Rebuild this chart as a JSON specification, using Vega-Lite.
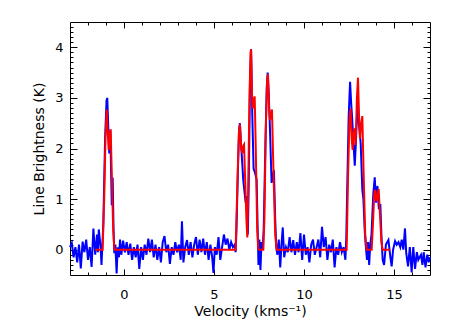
{
  "$schema": "https://vega.github.io/schema/vega-lite/v6.json",
  "width": 360,
  "height": 253,
  "autosize": {"type": "none"},
  "padding": {"left": 70, "top": 22, "right": 20, "bottom": 46},
  "background": "white",
  "config": {
    "view": {"stroke": "black", "strokeWidth": 1},
    "axis": {
      "grid": false,
      "domain": false,
      "labelFont": "DejaVu Sans",
      "titleFont": "DejaVu Sans",
      "labelColor": "black",
      "titleColor": "black",
      "tickColor": "black",
      "labelFontSize": 13,
      "titleFontSize": 14,
      "titleFontWeight": "normal",
      "tickWidth": 1
    }
  },
  "datasets": {
    "blue": [
      {"v": -3.0, "k": 0.05}, {"v": -2.9, "k": 0.13}, {"v": -2.8, "k": -0.15}, {"v": -2.7, "k": 0.05},
      {"v": -2.6, "k": -0.25}, {"v": -2.5, "k": 0.1}, {"v": -2.4, "k": -0.37}, {"v": -2.3, "k": 0.16},
      {"v": -2.2, "k": -0.05}, {"v": -2.1, "k": 0.2}, {"v": -2.0, "k": -0.2}, {"v": -1.9, "k": 0.05},
      {"v": -1.8, "k": -0.34}, {"v": -1.7, "k": 0.42}, {"v": -1.6, "k": -0.1}, {"v": -1.5, "k": 0.3},
      {"v": -1.45, "k": -0.05}, {"v": -1.4, "k": 0.4}, {"v": -1.3, "k": 0.05}, {"v": -1.25, "k": -0.3},
      {"v": -1.2, "k": 0.1}, {"v": -1.15, "k": 0.5}, {"v": -1.05, "k": 2.2}, {"v": -0.97, "k": 2.95},
      {"v": -0.93, "k": 3.0}, {"v": -0.88, "k": 2.5}, {"v": -0.82, "k": 1.9}, {"v": -0.76, "k": 2.35},
      {"v": -0.72, "k": 1.6}, {"v": -0.68, "k": 0.88}, {"v": -0.63, "k": 1.42}, {"v": -0.58, "k": 0.4},
      {"v": -0.54, "k": -0.07}, {"v": -0.48, "k": 0.1}, {"v": -0.41, "k": -0.47}, {"v": -0.35, "k": 0.05},
      {"v": -0.28, "k": -0.15}, {"v": -0.22, "k": 0.2}, {"v": -0.15, "k": -0.1}, {"v": -0.05, "k": 0.18},
      {"v": 0.05, "k": -0.05}, {"v": 0.15, "k": 0.15}, {"v": 0.25, "k": -0.1}, {"v": 0.35, "k": 0.12},
      {"v": 0.45, "k": -0.2}, {"v": 0.55, "k": 0.05}, {"v": 0.65, "k": -0.15}, {"v": 0.75, "k": 0.1},
      {"v": 0.85, "k": -0.38}, {"v": 0.95, "k": 0.05}, {"v": 1.05, "k": -0.2}, {"v": 1.15, "k": 0.1},
      {"v": 1.25, "k": -0.1}, {"v": 1.35, "k": 0.22}, {"v": 1.45, "k": -0.05}, {"v": 1.55, "k": 0.2},
      {"v": 1.65, "k": -0.15}, {"v": 1.75, "k": 0.1}, {"v": 1.85, "k": -0.2}, {"v": 1.95, "k": 0.05},
      {"v": 2.05, "k": -0.25}, {"v": 2.15, "k": 0.15}, {"v": 2.25, "k": 0.27}, {"v": 2.35, "k": -0.05},
      {"v": 2.45, "k": 0.1}, {"v": 2.55, "k": -0.28}, {"v": 2.65, "k": 0.05}, {"v": 2.75, "k": -0.1},
      {"v": 2.85, "k": 0.15}, {"v": 2.95, "k": -0.05}, {"v": 3.05, "k": 0.1}, {"v": 3.15, "k": -0.2},
      {"v": 3.22, "k": 0.56}, {"v": 3.3, "k": -0.25}, {"v": 3.4, "k": 0.05}, {"v": 3.5, "k": 0.19},
      {"v": 3.6, "k": -0.1}, {"v": 3.7, "k": 0.15}, {"v": 3.8, "k": -0.15}, {"v": 3.9, "k": 0.1},
      {"v": 4.0, "k": 0.25}, {"v": 4.1, "k": -0.1}, {"v": 4.2, "k": 0.2}, {"v": 4.3, "k": -0.05},
      {"v": 4.4, "k": 0.22}, {"v": 4.5, "k": -0.1}, {"v": 4.6, "k": 0.15}, {"v": 4.7, "k": -0.2},
      {"v": 4.8, "k": 0.1}, {"v": 4.9, "k": -0.15}, {"v": 4.97, "k": -0.46}, {"v": 5.05, "k": 0.05},
      {"v": 5.15, "k": -0.1}, {"v": 5.25, "k": 0.25}, {"v": 5.35, "k": -0.2}, {"v": 5.45, "k": 0.05},
      {"v": 5.55, "k": 0.3}, {"v": 5.65, "k": 0.1}, {"v": 5.75, "k": 0.22}, {"v": 5.85, "k": 0.0},
      {"v": 5.95, "k": 0.15}, {"v": 6.05, "k": 0.05}, {"v": 6.15, "k": 0.1}, {"v": 6.2, "k": -0.05},
      {"v": 6.25, "k": 0.4}, {"v": 6.33, "k": 1.6}, {"v": 6.4, "k": 2.4}, {"v": 6.44, "k": 2.5},
      {"v": 6.5, "k": 2.1}, {"v": 6.57, "k": 1.71}, {"v": 6.62, "k": 1.4}, {"v": 6.68, "k": 1.19},
      {"v": 6.76, "k": 0.93}, {"v": 6.83, "k": 1.06}, {"v": 6.88, "k": 0.3}, {"v": 6.93, "k": 1.3},
      {"v": 7.0, "k": 3.3}, {"v": 7.06, "k": 3.96}, {"v": 7.13, "k": 2.63}, {"v": 7.2, "k": 1.6},
      {"v": 7.28, "k": 1.52}, {"v": 7.37, "k": 1.38}, {"v": 7.42, "k": 0.5}, {"v": 7.47, "k": -0.3},
      {"v": 7.52, "k": 0.2}, {"v": 7.58, "k": -0.4}, {"v": 7.64, "k": 0.15}, {"v": 7.7, "k": 0.0},
      {"v": 7.76, "k": 0.4}, {"v": 7.85, "k": 2.0}, {"v": 7.93, "k": 3.2}, {"v": 7.98, "k": 3.5},
      {"v": 8.04, "k": 3.1}, {"v": 8.11, "k": 2.37}, {"v": 8.2, "k": 1.32}, {"v": 8.26, "k": 1.45},
      {"v": 8.33, "k": 1.57}, {"v": 8.4, "k": 0.6}, {"v": 8.46, "k": 0.05}, {"v": 8.52, "k": -0.1},
      {"v": 8.6, "k": 0.2}, {"v": 8.68, "k": -0.35}, {"v": 8.75, "k": 0.1}, {"v": 8.82, "k": 0.44},
      {"v": 8.9, "k": -0.15}, {"v": 9.0, "k": 0.05}, {"v": 9.1, "k": -0.05}, {"v": 9.2, "k": 0.25},
      {"v": 9.3, "k": -0.05}, {"v": 9.4, "k": 0.19}, {"v": 9.5, "k": -0.1}, {"v": 9.6, "k": 0.15},
      {"v": 9.7, "k": -0.05}, {"v": 9.8, "k": 0.33}, {"v": 9.9, "k": -0.2}, {"v": 10.0, "k": 0.3},
      {"v": 10.1, "k": -0.1}, {"v": 10.2, "k": 0.05}, {"v": 10.3, "k": -0.25}, {"v": 10.4, "k": 0.1},
      {"v": 10.5, "k": 0.2}, {"v": 10.6, "k": -0.1}, {"v": 10.7, "k": 0.05}, {"v": 10.8, "k": 0.2},
      {"v": 10.9, "k": -0.15}, {"v": 11.0, "k": 0.45}, {"v": 11.1, "k": 0.05}, {"v": 11.2, "k": 0.25},
      {"v": 11.3, "k": -0.2}, {"v": 11.4, "k": 0.1}, {"v": 11.5, "k": -0.05}, {"v": 11.6, "k": 0.2},
      {"v": 11.7, "k": -0.35}, {"v": 11.8, "k": 0.05}, {"v": 11.9, "k": -0.1}, {"v": 12.0, "k": 0.15},
      {"v": 12.1, "k": -0.05}, {"v": 12.2, "k": 0.05}, {"v": 12.3, "k": -0.2}, {"v": 12.35, "k": 0.25},
      {"v": 12.4, "k": 1.2}, {"v": 12.48, "k": 2.6}, {"v": 12.56, "k": 3.32}, {"v": 12.62, "k": 2.9},
      {"v": 12.67, "k": 2.63}, {"v": 12.74, "k": 2.17}, {"v": 12.82, "k": 1.66}, {"v": 12.88, "k": 2.1},
      {"v": 12.95, "k": 2.7}, {"v": 13.0, "k": 2.86}, {"v": 13.05, "k": 2.5}, {"v": 13.1, "k": 2.3},
      {"v": 13.15, "k": 2.1}, {"v": 13.24, "k": 1.19}, {"v": 13.3, "k": 1.0}, {"v": 13.37, "k": 0.4},
      {"v": 13.43, "k": 0.08}, {"v": 13.5, "k": -0.2}, {"v": 13.56, "k": 0.15}, {"v": 13.62, "k": -0.3},
      {"v": 13.68, "k": 0.1}, {"v": 13.75, "k": 0.3}, {"v": 13.85, "k": 1.1}, {"v": 13.93, "k": 1.43},
      {"v": 14.0, "k": 0.93}, {"v": 14.08, "k": 1.26}, {"v": 14.16, "k": 0.8}, {"v": 14.24, "k": 0.9},
      {"v": 14.3, "k": 0.3}, {"v": 14.37, "k": -0.2}, {"v": 14.45, "k": -0.3}, {"v": 14.55, "k": 0.1},
      {"v": 14.69, "k": 0.19}, {"v": 14.8, "k": -0.15}, {"v": 14.87, "k": -0.33}, {"v": 14.95, "k": 0.0},
      {"v": 15.06, "k": 0.17}, {"v": 15.15, "k": 0.1}, {"v": 15.25, "k": 0.15}, {"v": 15.35, "k": 0.05},
      {"v": 15.43, "k": 0.2}, {"v": 15.52, "k": 0.0}, {"v": 15.61, "k": 0.42}, {"v": 15.68, "k": -0.07},
      {"v": 15.78, "k": -0.33}, {"v": 15.88, "k": 0.05}, {"v": 15.98, "k": -0.45}, {"v": 16.07, "k": 0.05},
      {"v": 16.17, "k": -0.38}, {"v": 16.27, "k": -0.05}, {"v": 16.35, "k": -0.2}, {"v": 16.42, "k": -0.15},
      {"v": 16.5, "k": -0.1}, {"v": 16.58, "k": -0.3}, {"v": 16.65, "k": -0.05}, {"v": 16.75, "k": -0.35},
      {"v": 16.85, "k": -0.1}, {"v": 16.93, "k": -0.25}, {"v": 17.0, "k": -0.15}
    ],
    "red": [
      {"v": -1.6, "k": 0}, {"v": -1.19, "k": 0}, {"v": -1.1, "k": 1.0}, {"v": -1.03, "k": 2.2},
      {"v": -0.96, "k": 2.77}, {"v": -0.9, "k": 2.3}, {"v": -0.85, "k": 1.97}, {"v": -0.79, "k": 2.3},
      {"v": -0.74, "k": 2.38}, {"v": -0.68, "k": 1.5}, {"v": -0.6, "k": 0.4}, {"v": -0.54, "k": 0.02},
      {"v": -0.5, "k": 0}, {"v": 6.2, "k": 0}, {"v": 6.3, "k": 1.3}, {"v": 6.38, "k": 2.3},
      {"v": 6.44, "k": 2.48}, {"v": 6.51, "k": 2.0}, {"v": 6.57, "k": 1.91}, {"v": 6.62, "k": 2.05},
      {"v": 6.67, "k": 2.08}, {"v": 6.72, "k": 1.5}, {"v": 6.8, "k": 0.6}, {"v": 6.85, "k": 0.24},
      {"v": 6.9, "k": 1.2}, {"v": 6.97, "k": 3.0}, {"v": 7.03, "k": 3.9}, {"v": 7.06, "k": 3.96},
      {"v": 7.11, "k": 3.1}, {"v": 7.15, "k": 2.79}, {"v": 7.21, "k": 2.95}, {"v": 7.26, "k": 3.03},
      {"v": 7.32, "k": 2.0}, {"v": 7.4, "k": 0.4}, {"v": 7.46, "k": 0.02}, {"v": 7.5, "k": 0},
      {"v": 7.74, "k": 0}, {"v": 7.8, "k": 0.6}, {"v": 7.88, "k": 2.4}, {"v": 7.95, "k": 3.35},
      {"v": 8.0, "k": 3.47}, {"v": 8.06, "k": 2.8}, {"v": 8.11, "k": 2.56}, {"v": 8.17, "k": 2.7},
      {"v": 8.22, "k": 2.77}, {"v": 8.3, "k": 1.6}, {"v": 8.4, "k": 0.3}, {"v": 8.48, "k": 0},
      {"v": 12.37, "k": 0}, {"v": 12.45, "k": 1.5}, {"v": 12.53, "k": 2.6}, {"v": 12.59, "k": 2.79},
      {"v": 12.65, "k": 2.2}, {"v": 12.7, "k": 1.97}, {"v": 12.75, "k": 2.3}, {"v": 12.8, "k": 2.4},
      {"v": 12.87, "k": 2.07}, {"v": 12.94, "k": 3.0}, {"v": 13.0, "k": 3.4}, {"v": 13.06, "k": 2.6},
      {"v": 13.11, "k": 2.2}, {"v": 13.18, "k": 2.5}, {"v": 13.24, "k": 2.64}, {"v": 13.32, "k": 1.4},
      {"v": 13.4, "k": 0.3}, {"v": 13.48, "k": 0}, {"v": 13.76, "k": 0}, {"v": 13.83, "k": 0.5},
      {"v": 13.9, "k": 1.1}, {"v": 13.94, "k": 1.18}, {"v": 14.0, "k": 1.0}, {"v": 14.04, "k": 0.96},
      {"v": 14.1, "k": 1.15}, {"v": 14.15, "k": 1.2}, {"v": 14.22, "k": 0.7}, {"v": 14.3, "k": 0.15},
      {"v": 14.37, "k": 0}, {"v": 14.78, "k": 0}
    ]
  },
  "resolve": {"axis": {"x": "independent", "y": "independent"}},
  "layer": [
    {
      "data": {"name": "blue"},
      "mark": {"type": "line", "color": "#0000ff", "strokeWidth": 2},
      "encoding": {
        "x": {"field": "v", "type": "quantitative", "scale": {"domain": [-3, 17], "nice": false, "zero": false},
          "axis": {"orient": "bottom", "ticks": false, "values": [0, 5, 10, 15], "labelPadding": 13, "title": "Velocity (kms⁻¹)", "titlePadding": 3}},
        "y": {"field": "k", "type": "quantitative", "scale": {"domain": [-0.5, 4.5], "nice": false, "zero": false},
          "axis": {"orient": "left", "ticks": false, "values": [0, 1, 2, 3, 4], "labelPadding": 7, "title": "Line Brightness (K)", "titlePadding": 8}}
      }
    },
    {
      "data": {"name": "red"},
      "mark": {"type": "line", "color": "#ff0000", "strokeWidth": 2},
      "encoding": {
        "x": {"field": "v", "type": "quantitative",
          "axis": {"orient": "bottom", "labels": false, "title": null, "tickSize": -6, "values": [0, 5, 10, 15]}},
        "y": {"field": "k", "type": "quantitative",
          "axis": {"orient": "left", "labels": false, "title": null, "tickSize": -7, "values": [0, 1, 2, 3, 4]}}
      }
    },
    {
      "data": {"name": "red"},
      "mark": {"type": "point", "opacity": 0},
      "encoding": {
        "x": {"field": "v", "type": "quantitative",
          "axis": {"orient": "top", "labels": false, "title": null, "tickSize": -6, "values": [0, 5, 10, 15]}},
        "y": {"field": "k", "type": "quantitative",
          "axis": {"orient": "right", "labels": false, "title": null, "tickSize": -7, "values": [0, 1, 2, 3, 4]}}
      }
    },
    {
      "data": {"name": "red"},
      "mark": {"type": "point", "opacity": 0},
      "encoding": {
        "x": {"field": "v", "type": "quantitative",
          "axis": {"orient": "bottom", "labels": false, "title": null, "tickSize": -3, "values": [-2, -1, 1, 2, 3, 4, 6, 7, 8, 9, 11, 12, 13, 14, 16]}},
        "y": {"field": "k", "type": "quantitative",
          "axis": {"orient": "left", "labels": false, "title": null, "tickSize": -3, "values": [-0.4, -0.3, -0.2, -0.1, 0.1, 0.2, 0.3, 0.4, 0.5, 0.6, 0.7, 0.8, 0.9, 1.1, 1.2, 1.3, 1.4, 1.5, 1.6, 1.7, 1.8, 1.9, 2.1, 2.2, 2.3, 2.4, 2.5, 2.6, 2.7, 2.8, 2.9, 3.1, 3.2, 3.3, 3.4, 3.5, 3.6, 3.7, 3.8, 3.9, 4.1, 4.2, 4.3, 4.4]}}
      }
    },
    {
      "data": {"name": "red"},
      "mark": {"type": "point", "opacity": 0},
      "encoding": {
        "x": {"field": "v", "type": "quantitative",
          "axis": {"orient": "top", "labels": false, "title": null, "tickSize": -3, "values": [-2, -1, 1, 2, 3, 4, 6, 7, 8, 9, 11, 12, 13, 14, 16]}},
        "y": {"field": "k", "type": "quantitative",
          "axis": {"orient": "right", "labels": false, "title": null, "tickSize": -3, "values": [-0.4, -0.3, -0.2, -0.1, 0.1, 0.2, 0.3, 0.4, 0.5, 0.6, 0.7, 0.8, 0.9, 1.1, 1.2, 1.3, 1.4, 1.5, 1.6, 1.7, 1.8, 1.9, 2.1, 2.2, 2.3, 2.4, 2.5, 2.6, 2.7, 2.8, 2.9, 3.1, 3.2, 3.3, 3.4, 3.5, 3.6, 3.7, 3.8, 3.9, 4.1, 4.2, 4.3, 4.4]}}
      }
    }
  ]
}
